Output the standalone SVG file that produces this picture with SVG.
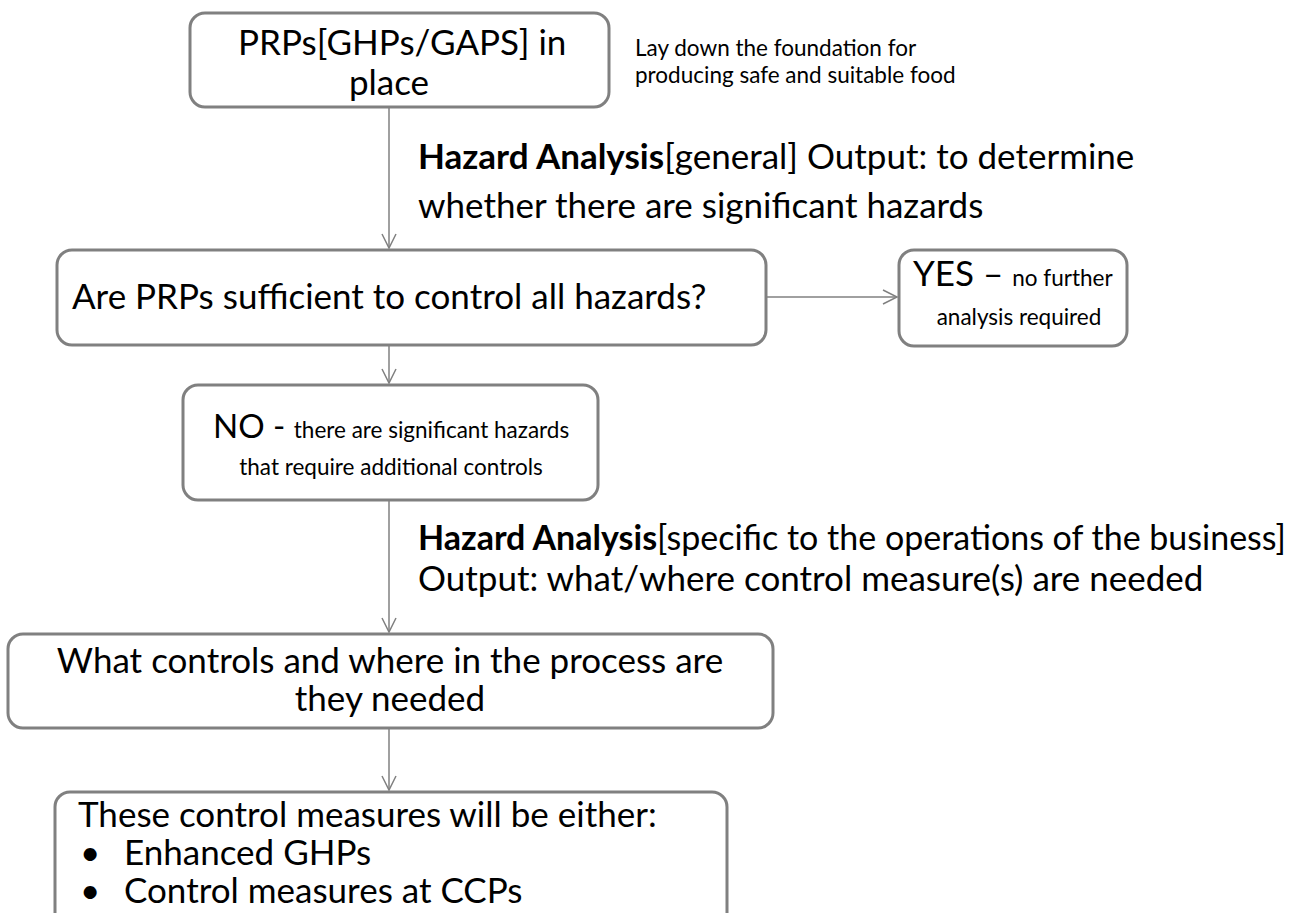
<svg xmlns="http://www.w3.org/2000/svg" width="1301" height="913" viewBox="0 0 1301 913">
<style>
.box{fill:#fff;stroke:#808080;stroke-width:3}
.t{font-family:Lato,"Open Sans","Liberation Sans",sans-serif;fill:#000}
.big{font-size:35px}
.sm{font-size:22.5px}
.conn line{stroke:#808080;stroke-width:1.5;fill:none}
</style>
<defs>
<marker id="ah" markerWidth="20" markerHeight="20" refX="15" refY="8" orient="auto" markerUnits="userSpaceOnUse">
<path d="M1,1 L15,8 L1,15" fill="none" stroke="#808080" stroke-width="1.5"/>
</marker>
</defs>
<rect width="1301" height="913" fill="#fff"/>
<g id="connectors" class="conn">
<line x1="389" y1="107" x2="389" y2="248" marker-end="url(#ah)"/>
<line x1="766" y1="297" x2="897" y2="297" marker-end="url(#ah)"/>
<line x1="389" y1="345" x2="389" y2="383" marker-end="url(#ah)"/>
<line x1="389" y1="500" x2="389" y2="632" marker-end="url(#ah)"/>
<line x1="389" y1="728" x2="389" y2="790" marker-end="url(#ah)"/>
</g>
<g id="n1">
<rect class="box" x="190" y="13" width="419" height="94" rx="15"/>
<text class="t big" x="238" y="55">PRPs[GHPs/GAPS] in</text>
<text class="t big" x="389" y="95" text-anchor="middle">place</text>
</g>
<g id="note">
<text class="t sm" x="635" y="56">Lay down the foundation for</text>
<text class="t sm" x="635" y="83">producing safe and suitable food</text>
</g>
<g id="label1">
<text class="t big" x="418" y="169"><tspan font-weight="bold">Hazard Analysis</tspan>[general] Output: to determine</text>
<text class="t big" x="418" y="218">whether there are significant hazards</text>
</g>
<g id="n2">
<rect class="box" x="57" y="250" width="709" height="95" rx="15"/>
<text class="t big" x="72" y="309">Are PRPs sufficient to control all hazards?</text>
</g>
<g id="n3">
<rect class="box" x="899" y="250" width="228" height="96" rx="15"/>
<text class="t" x="913" y="286"><tspan font-size="35">YES – </tspan><tspan font-size="22.5">no further</tspan></text>
<text class="t sm" x="1019" y="325" text-anchor="middle">analysis required</text>
</g>
<g id="n4">
<rect class="box" x="183" y="385" width="415" height="115" rx="15"/>
<text class="t" x="213" y="438"><tspan font-size="33">NO - </tspan><tspan font-size="22.5">there are significant hazards</tspan></text>
<text class="t sm" x="391" y="475" text-anchor="middle">that require additional controls</text>
</g>
<g id="label2">
<text class="t" x="418" y="550" font-size="34"><tspan font-weight="bold">Hazard Analysis</tspan>[specific to the operations of the business]</text>
<text class="t big" x="418" y="591">Output: what/where control measure(s) are needed</text>
</g>
<g id="n5">
<rect class="box" x="8" y="634" width="765" height="94" rx="15"/>
<text class="t big" x="390" y="673" text-anchor="middle" font-size="35.5">What controls and where in the process are</text>
<text class="t big" x="390" y="711" text-anchor="middle" font-size="35.5">they needed</text>
</g>
<g id="n6">
<rect class="box" x="55" y="792" width="672" height="140" rx="15"/>
<text class="t big" x="78" y="827">These control measures will be either:</text>
<text class="t big" x="80" y="865">•</text>
<text class="t big" x="124" y="865">Enhanced GHPs</text>
<text class="t big" x="80" y="903">•</text>
<text class="t big" x="124" y="903">Control measures at CCPs</text>
</g>
</svg>
